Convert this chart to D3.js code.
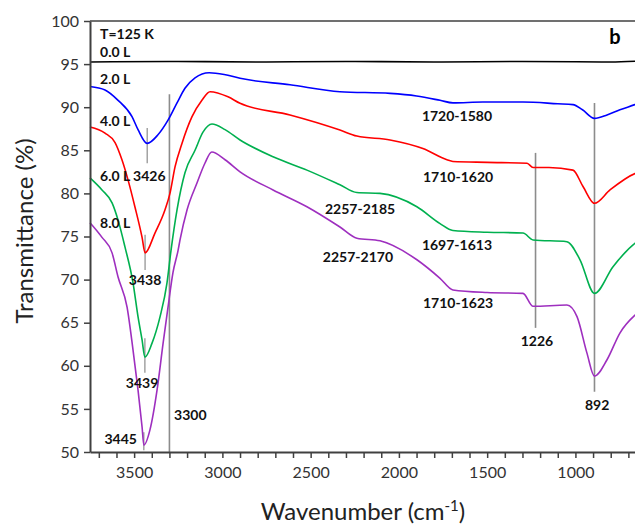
<!DOCTYPE html>
<html>
<head>
<meta charset="utf-8">
<script src="https://cdn.jsdelivr.net/npm/d3@7"></script>
<style>
  body { margin: 0; background: #fff; }
  svg { display: block; font-family: Lato, "Open Sans", sans-serif; }
  .lbl { font-weight: bold; font-size: 14px; fill: #111; }
</style>
</head>
<body>
<div id="chart"></div>
<script>
// spectra, [wavenumber cm-1, transmittance %]
var s00 = [[3750,95.25],[3300,95.3],[2800,95.25],[2300,95.3],[1800,95.25],[1300,95.3],[800,95.25],[650,95.35]];

var s20 = [[3750,92.4],[3665,92.0],[3591,90.8],[3512,88.9],[3478,87.4],[3426,85.8],[3365,86.8],[3308,88.5],
  [3257,90.5],[3212,92.2],[3155,93.4],[3075,94.0],[2990,93.8],[2900,93.35],[2617,92.6],[2334,91.8],[2050,91.6],
  [1900,91.3],[1767,90.8],[1694,90.5],[1524,90.6],[1297,90.6],[1100,90.4],[1014,90.3],[960,89.7],[892,88.7],
  [821,89.1],[748,89.7],[663,90.3],[650,90.4]];

var s40 = [[3750,87.7],[3665,87.0],[3608,85.9],[3569,83.9],[3535,81.6],[3495,78.4],[3455,74.9],[3438,73.1],
  [3382,75.4],[3325,78.1],[3297,80.0],[3268,83.1],[3229,85.8],[3172,88.9],[3116,90.8],[3070,91.8],[2968,91.2],
  [2900,90.45],[2617,89.1],[2334,87.35],[2238,86.65],[2050,86.2],[1864,85.2],[1728,83.9],[1694,83.7],[1500,83.6],
  [1274,83.5],[1240,83.0],[1150,83.0],[1014,82.7],[957,80.8],[892,78.85],[804,80.4],[663,82.3],[650,82.4]];

var s60 = [[3750,81.8],[3682,80.4],[3625,78.9],[3591,76.9],[3552,73.8],[3506,69.6],[3478,65.7],[3455,63.0],
  [3439,61.0],[3399,62.6],[3353,65.7],[3314,69.6],[3291,73.4],[3257,78.1],[3212,82.4],[3155,85.0],[3110,87.1],
  [3059,88.05],[2985,87.4],[2900,86.2],[2713,84.25],[2521,82.7],[2334,81.0],[2238,80.1],[2107,80.0],[1898,78.45],
  [1767,76.5],[1694,75.7],[1500,75.5],[1297,75.4],[1240,74.6],[1048,74.4],[974,72.3],[892,68.4],[787,71.5],
  [663,74.2],[650,74.4]];

var s80 = [[3750,76.6],[3682,74.9],[3625,73.1],[3591,70.3],[3540,66.8],[3506,61.8],[3478,57.2],[3455,52.9],
  [3445,50.8],[3410,52.6],[3370,57.2],[3336,62.6],[3308,66.8],[3280,70.8],[3251,73.4],[3240,74.6],[3200,78.1],
  [3144,81.2],[3099,83.5],[3060,84.8],[2985,83.9],[2900,82.5],[2713,80.4],[2521,78.45],[2334,76.1],[2238,74.8],
  [2107,74.5],[1898,72.3],[1767,70.15],[1694,68.8],[1500,68.5],[1297,68.4],[1240,66.9],[1048,67.05],[991,65.7],
  [935,61.5],[892,58.8],[821,60.7],[748,63.8],[650,66.1]];

var seriesNames = ["0.0 L", "2.0 L", "4.0 L", "6.0 L", "8.0 L"];
var seriesData = [s00, s20, s40, s60, s80];
var colors = ["#000000", "#0000ff", "#ff0000", "#00b04f", "#9e2fbf"];

// marker lines: [wavenumber, from %, to %]
var markLines = [[3300, 91.5, 50], [892, 90.5, 57.0], [1226, 84.7, 64.4],
  [3426, 87.6, 83.5], [3438, 75.2, 71.1], [3439, 63.2, 59.2], [3445, 52.3, 50.2]];

// annotations: [text, wavenumber, %, anchor]
var notes = [["3426", 3414, 82.1, "middle"], ["3438", 3438, 70.0, "middle"], ["3439", 3455, 58.1, "middle"],
  ["3445", 3484, 51.6, "end"], ["3300", 3274, 54.4, "start"], ["1720-1580", 1671, 89.0, "middle"],
  ["1710-1620", 1665, 82.0, "middle"], ["2257-2185", 2220, 78.3, "middle"], ["1697-1613", 1671, 74.1, "middle"],
  ["2257-2170", 2232, 72.7, "middle"], ["1710-1623", 1665, 67.3, "middle"], ["1226", 1218, 62.9, "middle"],
  ["892", 877, 55.5, "middle"]];
var seriesLabelY = [96.5, 93.3, 88.5, 82.1, 76.6];

var xTicks = d3.range(700, 3800, 100);
var yTicks = d3.range(50, 101, 5);

var width = 635, height = 527;
var margin = {top: 21, left: 90, bottom: 75};

var x = d3.scaleLinear().domain([3750, 650]).range([margin.left, 637.2]);
var y = d3.scaleLinear().domain([50, 100]).range([height - margin.bottom, margin.top]);

var svg = d3.select("#chart").append("svg")
    .attr("width", width)
    .attr("height", height);

svg.append("rect").attr("width", width).attr("height", height).attr("fill", "#fff");

// marker lines behind the spectra
svg.append("g").selectAll("line")
    .data(markLines)
  .enter().append("line")
    .attr("x1", function(d) { return x(d[0]); })
    .attr("x2", function(d) { return x(d[0]); })
    .attr("y1", function(d) { return y(d[1]); })
    .attr("y2", function(d) { return y(d[2]); })
    .attr("stroke", "#8c8c8c")
    .attr("stroke-width", function(d, i) { return i < 3 ? 1.6 : 1.2; });

var line = d3.line()
    .x(function(d) { return x(d[0]); })
    .y(function(d) { return y(d[1]); })
    .curve(d3.curveMonotoneX);

svg.append("g").selectAll("path")
    .data(seriesData)
  .enter().append("path")
    .attr("d", line)
    .attr("fill", "none")
    .attr("stroke", function(d, i) { return colors[i]; })
    .attr("stroke-width", 1.6);

// axes
var xAxis = svg.append("g")
    .attr("transform", "translate(0," + y(50) + ")")
    .call(d3.axisBottom(x).tickValues(xTicks).tickSize(6).tickSizeOuter(0)
      .tickFormat(function(d) { return d % 500 === 0 ? d : ""; }));

var yAxis = svg.append("g")
    .attr("transform", "translate(" + margin.left + ",0)")
    .call(d3.axisLeft(y).tickValues(yTicks).tickSize(6).tickSizeOuter(0));

[xAxis, yAxis].forEach(function(a) {
  a.select(".domain").attr("stroke", "#404040").attr("stroke-width", 2);
  a.selectAll(".tick line").attr("stroke", "#404040").attr("stroke-width", 1.5);
  a.selectAll(".tick text").attr("fill", "#333").style("font-family", "Lato, sans-serif").style("font-size", "16px");
});
xAxis.selectAll(".tick text").attr("dy", "1.05em");
yAxis.selectAll(".tick text").attr("x", -11);

// top frame line
svg.append("line")
    .attr("x1", margin.left).attr("x2", width)
    .attr("y1", y(100)).attr("y2", y(100))
    .attr("stroke", "#404040").attr("stroke-width", 1.5);

// axis titles
svg.append("text")
    .attr("transform", "translate(23,231) rotate(-90)")
    .attr("text-anchor", "middle")
    .attr("dominant-baseline", "central")
    .style("font-size", "24px").attr("fill", "#222")
    .text("Transmittance (%)");

var xt = svg.append("text")
    .attr("x", 363).attr("y", 520)
    .attr("text-anchor", "middle")
    .style("font-size", "24px").attr("fill", "#222");
xt.append("tspan").text("Wavenumber (cm");
xt.append("tspan").attr("dy", -9).style("font-size", "15px").text("-1");
xt.append("tspan").attr("dy", 9).text(")");

// labels
svg.append("text").attr("class", "lbl")
    .attr("x", x(3693)).attr("y", y(98.6)).attr("dominant-baseline", "central")
    .text("T=125 K");

svg.append("g").selectAll("text")
    .data(seriesNames)
  .enter().append("text")
    .attr("class", "lbl")
    .attr("x", x(3693))
    .attr("y", function(d, i) { return y(seriesLabelY[i]); })
    .attr("dominant-baseline", "central")
    .text(function(d) { return d; });

svg.append("g").selectAll("text")
    .data(notes)
  .enter().append("text")
    .attr("class", "lbl")
    .attr("x", function(d) { return x(d[1]); })
    .attr("y", function(d) { return y(d[2]); })
    .attr("text-anchor", function(d) { return d[3]; })
    .attr("dominant-baseline", "central")
    .text(function(d) { return d[0]; });

svg.append("text")
    .attr("x", 615).attr("y", 36)
    .attr("text-anchor", "middle").attr("dominant-baseline", "central")
    .style("font-weight", "bold").style("font-size", "20px")
    .text("b");
</script>
</body>
</html>
